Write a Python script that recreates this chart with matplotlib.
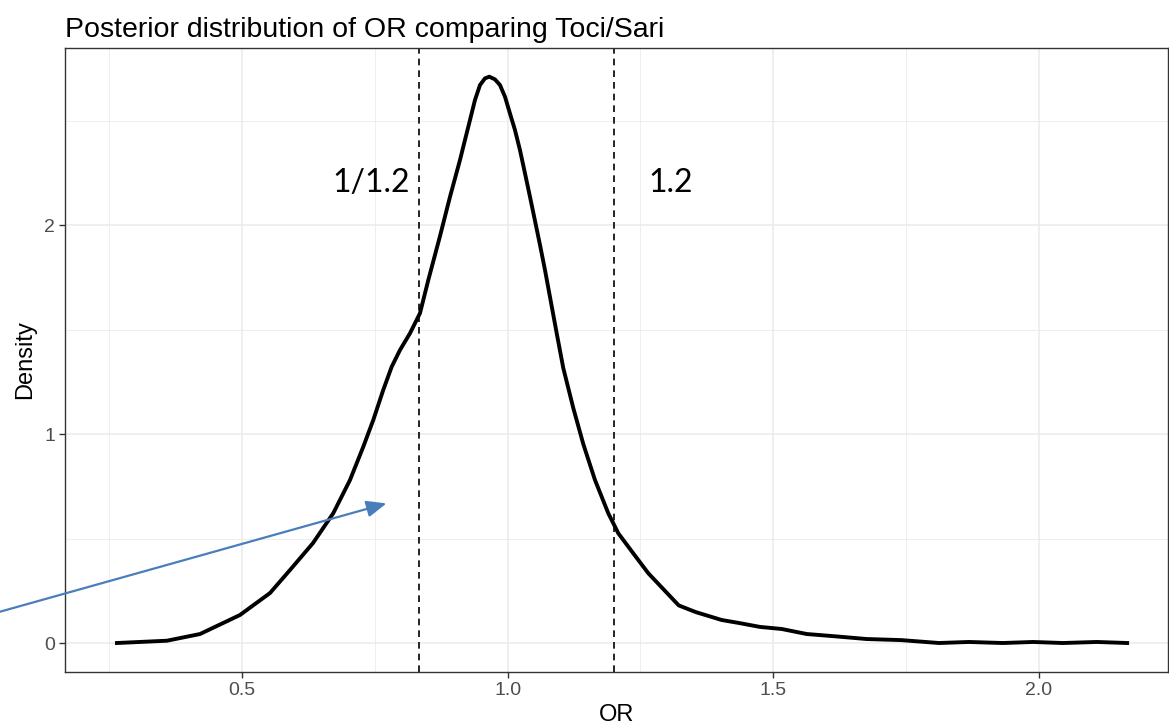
import matplotlib
matplotlib.use("Agg")
import matplotlib.pyplot as plt

odds_ratio = [0.2647, 0.3588, 0.4210, 0.4962, 0.5527, 0.5903, 0.6336, 0.6718, 0.7033,
              0.7283, 0.7471, 0.7659, 0.7818, 0.7974, 0.8162, 0.8350, 0.8507, 0.8727,
              0.8915, 0.9009, 0.9103, 0.9197, 0.9291, 0.9385, 0.9480, 0.9574, 0.9655,
              0.9762, 0.9856, 0.9950, 1.0044, 1.0138, 1.0232, 1.0327, 1.0421, 1.0609,
              1.0703, 1.0797, 1.0923, 1.1047, 1.1236, 1.1424, 1.1644, 1.1894, 1.2083,
              1.2365, 1.2647, 1.322, 1.354, 1.403, 1.435, 1.475, 1.516, 1.563, 1.612,
              1.676, 1.740, 1.812, 1.868, 1.932, 1.989, 2.045, 2.109, 2.166]
density = [0.0, 0.011, 0.043, 0.134, 0.239, 0.349, 0.478, 0.621, 0.780,
           0.939, 1.067, 1.211, 1.322, 1.402, 1.482, 1.578, 1.737, 1.947,
           2.135, 2.223, 2.311, 2.407, 2.502, 2.598, 2.670, 2.702, 2.710,
           2.697, 2.670, 2.614, 2.534, 2.455, 2.359, 2.247, 2.135, 1.905,
           1.785, 1.656, 1.483, 1.316, 1.124, 0.952, 0.780, 0.621, 0.525,
           0.429, 0.334, 0.18, 0.148, 0.11, 0.096, 0.077, 0.067, 0.043, 0.033,
           0.019, 0.014, 0.0, 0.005, 0.0, 0.005, 0.0, 0.005, 0.0]

thresholds = [1 / 1.2, 1.2]
threshold_labels = ["1/1.2", "1.2"]

x_ticks = [0.5, 1.0, 1.5, 2.0]
y_ticks = [0, 1, 2]

fig = plt.figure(figsize=(11.69, 7.28), dpi=100)
ax = fig.add_axes([0.0556, 0.0769, 0.9435, 0.8571])

# theme_bw style grid
for v in [0.25, 0.75, 1.25, 1.75, 2.25]:
    ax.axvline(v, color="#EBEBEB", lw=0.6, zorder=0)
for v in [0.5, 1.5, 2.5]:
    ax.axhline(v, color="#EBEBEB", lw=0.6, zorder=0)
for v in x_ticks:
    ax.axvline(v, color="#EBEBEB", lw=1.1, zorder=0)
for v in y_ticks:
    ax.axhline(v, color="#EBEBEB", lw=1.1, zorder=0)

ax.plot(odds_ratio, density, color="black", lw=2.8, solid_joinstyle="round", zorder=3)

for t in thresholds:
    ax.axvline(t, color="black", lw=1.2, linestyle=(0, (4, 3)), zorder=2)

ax.text(0.816, 2.2, threshold_labels[0], ha="right", va="center",
        fontsize=23, family="Lato")
ax.text(1.264, 2.2, threshold_labels[1], ha="left", va="center",
        fontsize=23, family="Lato")

ax.annotate("", xy=(0.772, 0.668), xytext=(0.0, 0.118),
            arrowprops=dict(arrowstyle="-|>,head_length=1.2,head_width=0.5",
                            color="#4A7EBB", lw=1.6, shrinkA=0, shrinkB=0),
            annotation_clip=False, zorder=4)

ax.set_xlim(0.1669, 2.2428)
ax.set_ylim(-0.1388, 2.847)
ax.set_xticks(x_ticks)
ax.set_xticklabels(["0.5", "1.0", "1.5", "2.0"])
ax.set_yticks(y_ticks)
ax.set_yticklabels(["0", "1", "2"])

for s in ax.spines.values():
    s.set_color("#333333")
    s.set_linewidth(1.0)
ax.tick_params(direction="out", length=4, width=1.0, color="#333333",
               labelcolor="#4D4D4D", labelsize=14, pad=3)
for lab in ax.get_xticklabels() + ax.get_yticklabels():
    lab.set_family("Liberation Sans")

ax.set_xlabel("OR", fontsize=17, family="Liberation Sans", labelpad=4)
ax.set_ylabel("Density", fontsize=17, family="Liberation Sans", labelpad=6)
ax.set_title("Posterior distribution of OR comparing Toci/Sari", loc="left",
             fontsize=20.5, family="Liberation Sans", pad=8)

fig.savefig("out.png", dpi=100)
